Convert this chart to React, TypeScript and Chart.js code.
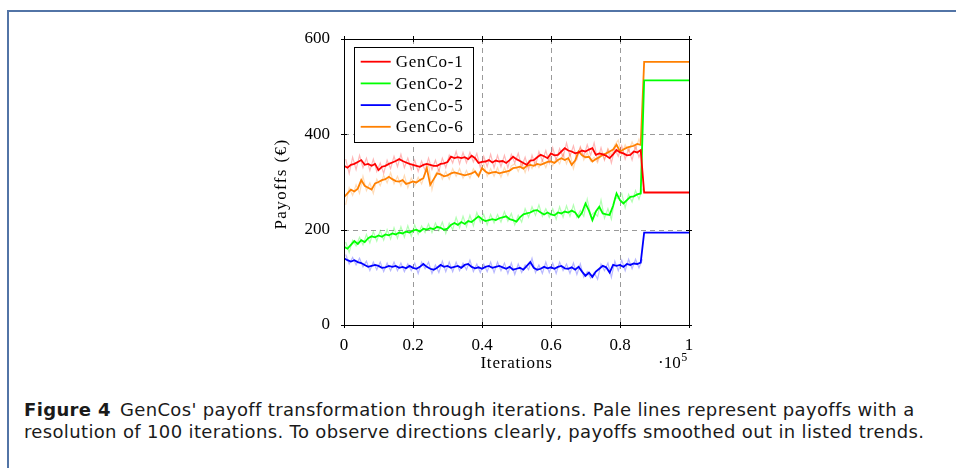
import React, { useEffect, useRef } from "react";
import { Chart, registerables } from "chart.js";

Chart.register(...registerables);

// ---------- data ----------
const seriesLabels = ["GenCo-1", "GenCo-2", "GenCo-5", "GenCo-6"];
const seriesColors = ["#ff0000", "#00ff00", "#0000ff", "#ff8000"];
const paleColors = [
  "rgba(255,0,0,0.28)",
  "rgba(0,255,0,0.3)",
  "rgba(0,0,255,0.28)",
  "rgba(255,128,0,0.28)",
];

// iterations in thousands (smoothed trend samples)
const smoothIterK = [
  0, 1, 2, 3, 4, 5, 6, 7, 8, 9, 10, 11, 12, 13, 14, 15, 16, 17, 18, 19,
  20, 21, 22, 23, 24, 25, 26, 27, 28, 29, 30, 31, 32, 33, 34, 35, 36, 37, 38, 39,
  40, 41, 42, 43, 44, 45, 46, 47, 48, 49, 50, 51, 52, 53, 54, 55, 56, 57, 58, 59,
  60, 61, 62, 63, 64, 65, 66, 67, 68, 69, 70, 71, 72, 73, 74, 75, 76, 77, 78, 79,
  80, 81, 82, 83, 84, 85, 86,
];
// iterations in thousands (pale, raw samples)
const paleIterK = [
  0.5, 1.5, 2.5, 3.5, 4.5, 5.5, 6.5, 7.5, 8.5, 9.5, 10.5, 11.5, 12.5, 13.5, 14.5, 15.5, 16.5, 17.5, 18.5, 19.5,
  20.5, 21.5, 22.5, 23.5, 24.5, 25.5, 26.5, 27.5, 28.5, 29.5, 30.5, 31.5, 32.5, 33.5, 34.5, 35.5, 36.5, 37.5, 38.5, 39.5,
  40.5, 41.5, 42.5, 43.5, 44.5, 45.5, 46.5, 47.5, 48.5, 49.5, 50.5, 51.5, 52.5, 53.5, 54.5, 55.5, 56.5, 57.5, 58.5, 59.5,
  60.5, 61.5, 62.5, 63.5, 64.5, 65.5, 66.5, 67.5, 68.5, 69.5, 70.5, 71.5, 72.5, 73.5, 74.5, 75.5, 76.5, 77.5, 78.5, 79.5,
  80.5, 81.5, 82.5, 83.5, 84.5, 85.5, 86.5,
];
// after convergence (thousands of iterations)
const finalIterK = [87, 100];

const genco1Smooth = [
  334, 330, 336, 338, 342, 346, 336, 338, 334, 338, 325, 332, 334, 338, 341, 344, 348, 344, 341, 338,
  336, 334, 332, 336, 338, 336, 334, 334, 338, 339, 342, 353, 350, 352, 350, 352, 348, 355, 350, 340,
  342, 343, 346, 341, 345, 343, 344, 340, 346, 353, 348, 344, 340, 336, 345, 346, 352, 357, 354, 350,
  360, 356, 357, 364, 371, 366, 364, 360, 362, 366, 364, 368, 371, 357, 360, 358, 355, 350, 358, 367,
  362, 360, 356, 357, 364, 362, 367,
];
const genco2Smooth = [
  164, 160, 168, 176, 170, 178, 174, 182, 186, 184, 188, 185, 190, 188, 192, 190, 194, 192, 196, 194,
  198, 200, 196, 202, 200, 203, 201, 206, 204, 200, 202, 210, 214, 210, 216, 212, 218, 216, 222, 228,
  222, 218, 220, 222, 220, 224, 226, 228, 222, 220, 217, 226, 232, 234, 236, 240, 241, 236, 232, 236,
  232, 230, 236, 234, 238, 236, 240, 236, 226, 236, 255, 240, 220, 238, 248, 234, 232, 231, 250, 276,
  262, 255, 262, 269, 270, 274, 276,
];
const genco5Smooth = [
  140, 136, 133, 136, 132, 130, 126, 122, 124, 126, 124, 120, 121, 124, 122, 124, 120, 122, 119, 124,
  120, 118, 122, 128, 122, 118, 116, 120, 126, 122, 124, 120, 122, 124, 120, 126, 128, 122, 119, 121,
  118, 122, 124, 120, 122, 124, 121, 118, 122, 116, 118, 120, 116, 124, 132, 120, 116, 118, 122, 119,
  121, 118, 122, 124, 119, 118, 121, 116, 122, 112, 103, 110, 101, 112, 118, 124, 121, 110, 126, 124,
  126, 122, 128, 126, 129, 128, 131,
];
const genco6Smooth = [
  268, 276, 284, 280, 286, 304, 292, 288, 284, 297, 300, 304, 306, 311, 306, 302, 301, 304, 296, 298,
  301, 299, 304, 308, 329, 294, 306, 318, 316, 312, 314, 318, 320, 318, 316, 314, 316, 318, 322, 312,
  329, 322, 318, 320, 321, 318, 320, 322, 324, 329, 330, 332, 328, 334, 336, 334, 338, 336, 339, 342,
  343, 340, 346, 350, 346, 350, 336, 345, 364, 356, 352, 353, 343, 348, 352, 357, 360, 364, 368, 378,
  364, 368, 372, 374, 376, 380, 378,
];

const genco1Pale = [
  348, 318, 352, 326, 356, 330, 350, 324, 348, 322, 340, 318, 346, 328, 354, 332, 358, 330, 350, 326,
  346, 322, 344, 324, 350, 326, 346, 322, 350, 330, 356, 340, 364, 338, 362, 340, 362, 342, 360, 330,
  354, 332, 358, 330, 356, 332, 356, 330, 358, 340, 360, 332, 352, 326, 356, 334, 364, 344, 366, 340,
  372, 346, 370, 352, 382, 354, 376, 348, 374, 354, 378, 356, 382, 346, 372, 346, 368, 340, 370, 354,
  376, 348, 370, 346, 376, 352, 372,
];
const genco2Pale = [
  174, 152, 178, 166, 184, 168, 190, 172, 196, 176, 198, 178, 200, 180, 204, 182, 206, 184, 208, 186,
  210, 190, 208, 194, 212, 194, 214, 198, 216, 192, 214, 200, 226, 204, 228, 206, 230, 208, 236, 216,
  232, 210, 232, 214, 232, 216, 238, 218, 234, 210, 230, 216, 244, 226, 248, 230, 252, 228, 244, 226,
  244, 222, 248, 226, 250, 228, 252, 226, 240, 228, 264, 230, 236, 228, 262, 224, 244, 222, 266, 266,
  276, 246, 274, 258, 282, 264, 286,
];
const genco5Pale = [
  148, 128, 142, 126, 140, 122, 134, 114, 132, 116, 132, 112, 130, 114, 132, 114, 130, 112, 128, 114,
  130, 108, 132, 118, 132, 108, 126, 110, 134, 112, 132, 112, 132, 114, 130, 116, 136, 112, 128, 110,
  128, 112, 132, 110, 132, 114, 130, 108, 130, 106, 128, 110, 126, 116, 140, 110, 126, 108, 132, 110,
  130, 108, 132, 114, 128, 108, 130, 106, 128, 100, 112, 98, 110, 96, 128, 114, 130, 100, 134, 114,
  136, 114, 138, 118, 138, 120, 138,
];
const genco6Pale = [
  252, 288, 272, 294, 276, 312, 282, 298, 276, 306, 292, 314, 298, 320, 296, 312, 292, 314, 288, 308,
  292, 310, 296, 318, 338, 284, 316, 326, 306, 322, 306, 328, 312, 328, 308, 324, 308, 328, 314, 322,
  338, 312, 328, 312, 330, 310, 330, 314, 334, 338, 322, 342, 320, 344, 328, 344, 330, 346, 330, 352,
  334, 350, 338, 360, 338, 360, 328, 356, 372, 346, 362, 344, 352, 340, 362, 348, 370, 356, 378, 388,
  356, 378, 364, 384, 368, 390, 370,
];

const finalPayoffs = [278, 513, 194, 552];

const smoothSeries = [genco1Smooth, genco2Smooth, genco5Smooth, genco6Smooth];
const paleSeries = [genco1Pale, genco2Pale, genco5Pale, genco6Pale];

const xTickLabels = ["0", "0.2", "0.4", "0.6", "0.8", "1"];
const yTickLabels = ["0", "200", "400", "600"];

// ---------- layout ----------
const CANVAS_LEFT = 250;
const CANVAS_TOP = 25;
const CANVAS_W = 460;
const CANVAS_H = 360;
const SERIF = '"Liberation Serif", "Times New Roman", serif';

function setSpacing(ctx: any, v: string) {
  try {
    ctx.letterSpacing = v;
  } catch (e) {
    /* ignore */
  }
}

const decorPlugin = {
  id: "paperDecor",
  beforeDatasetsDraw(chart: any) {
    const { ctx, chartArea: a, scales } = chart;
    ctx.save();
    ctx.strokeStyle = "#9a9a9a";
    ctx.lineWidth = 1;
    ctx.setLineDash([5, 4]);
    for (const v of [0.2, 0.4, 0.6, 0.8]) {
      const x = Math.round(scales.x.getPixelForValue(v)) + 0.5;
      ctx.beginPath();
      ctx.moveTo(x, a.top);
      ctx.lineTo(x, a.bottom);
      ctx.stroke();
    }
    for (const v of [200, 400]) {
      const y = Math.round(scales.y.getPixelForValue(v)) + 0.5;
      ctx.beginPath();
      ctx.moveTo(a.left, y);
      ctx.lineTo(a.right, y);
      ctx.stroke();
    }
    ctx.restore();
  },
  afterDatasetsDraw(chart: any) {
    const { ctx, chartArea: a, scales } = chart;
    ctx.save();
    // axis box
    ctx.strokeStyle = "#000";
    ctx.lineWidth = 1;
    ctx.setLineDash([]);
    ctx.strokeRect(Math.round(a.left) + 0.5, Math.round(a.top) + 0.5, Math.round(a.right - a.left), Math.round(a.bottom - a.top));
    // tick marks
    ctx.beginPath();
    for (const v of [0, 0.2, 0.4, 0.6, 0.8, 1]) {
      const x = Math.round(scales.x.getPixelForValue(v)) + 0.5;
      ctx.moveTo(x, a.bottom - 3);
      ctx.lineTo(x, a.bottom + 3);
      ctx.moveTo(x, a.top - 3);
      ctx.lineTo(x, a.top + 3);
    }
    for (const v of [0, 200, 400, 600]) {
      const y = Math.round(scales.y.getPixelForValue(v)) + 0.5;
      ctx.moveTo(a.left - 3, y);
      ctx.lineTo(a.left + 3, y);
      ctx.moveTo(a.right - 3, y);
      ctx.lineTo(a.right + 3, y);
    }
    ctx.stroke();

    // legend
    const lx = a.left + 10;
    const ly = a.top + 8;
    const lw = 119;
    const lh = 95;
    ctx.fillStyle = "#fff";
    ctx.fillRect(lx, ly, lw, lh);
    ctx.strokeStyle = "#000";
    ctx.strokeRect(Math.round(lx) + 0.5, Math.round(ly) + 0.5, lw, lh);
    ctx.font = `17px ${SERIF}`;
    setSpacing(ctx, "0.8px");
    ctx.textBaseline = "middle";
    ctx.textAlign = "left";
    seriesLabels.forEach((lab, i) => {
      const y = ly + 14.7 + i * 21.7;
      ctx.strokeStyle = seriesColors[i];
      ctx.lineWidth = 1.8;
      ctx.beginPath();
      ctx.moveTo(lx + 6.7, y);
      ctx.lineTo(lx + 36.7, y);
      ctx.stroke();
      ctx.fillStyle = "#000";
      ctx.fillText(lab, lx + 41.7, y + 1);
    });

    // axis titles
    ctx.fillStyle = "#000";
    ctx.font = `17px ${SERIF}`;
    ctx.textAlign = "center";
    ctx.textBaseline = "middle";
    ctx.fillText("Iterations", (a.left + a.right) / 2, a.bottom + 39);
    setSpacing(ctx, "1.4px");
    ctx.save();
    ctx.translate(a.left - 62, (a.top + a.bottom) / 2 + 2);
    ctx.rotate(-Math.PI / 2);
    ctx.fillText("Payoffs (€)", 0, 0);
    ctx.restore();
    setSpacing(ctx, "0px");

    // ·10^5 multiplier
    ctx.textAlign = "left";
    ctx.textBaseline = "alphabetic";
    ctx.font = `17px ${SERIF}`;
    const baseX = a.right - 31;
    const baseY = a.bottom + 43;
    ctx.fillText("·10", baseX, baseY);
    const w = ctx.measureText("·10").width;
    ctx.font = `12px ${SERIF}`;
    ctx.fillText("5", baseX + w + 0.5, baseY - 7);
    ctx.restore();
  },
};

export default function App() {
  const ref = useRef<HTMLCanvasElement | null>(null);

  useEffect(() => {
    if (!ref.current) return;
    const datasets: any[] = [];
    paleSeries.forEach((vals, i) => {
      datasets.push({
        label: seriesLabels[i] + " (raw)",
        data: paleIterK.map((k, j) => ({ x: k / 100, y: vals[j] })),
        borderColor: paleColors[i],
        borderWidth: 1.2,
        pointRadius: 0,
        tension: 0,
        fill: false,
        order: 2,
      });
    });
    smoothSeries.forEach((vals, i) => {
      const pts = smoothIterK.map((k, j) => ({ x: k / 100, y: vals[j] }));
      finalIterK.forEach((k) => pts.push({ x: k / 100, y: finalPayoffs[i] }));
      datasets.push({
        label: seriesLabels[i],
        data: pts,
        borderColor: seriesColors[i],
        borderWidth: 1.8,
        pointRadius: 0,
        tension: 0,
        fill: false,
        order: 1,
      });
    });

    const tickFont = { family: SERIF, size: 17 };
    const chart = new Chart(ref.current, {
      type: "line",
      data: { datasets },
      options: {
        animation: false,
        responsive: false,
        maintainAspectRatio: false,
        devicePixelRatio: 1,
        layout: { padding: { left: 0, right: 21, top: 14, bottom: 0 } },
        plugins: { legend: { display: false }, tooltip: { enabled: false } },
        scales: {
          x: {
            type: "linear",
            min: 0,
            max: 1,
            afterFit: (s: any) => {
              s.height = 60;
              s.paddingLeft = 0;
              s.paddingRight = 0;
            },
            grid: { display: false, drawTicks: false },
            border: { display: false },
            ticks: {
              stepSize: 0.2,
              autoSkip: false,
              maxRotation: 0,
              padding: 10,
              color: "#000",
              font: tickFont,
              callback: (_v: any, i: number) => xTickLabels[i],
            },
          },
          y: {
            type: "linear",
            min: 0,
            max: 600,
            afterFit: (s: any) => {
              s.width = 94;
              s.paddingTop = 0;
              s.paddingBottom = 0;
            },
            grid: { display: false, drawTicks: false },
            border: { display: false },
            ticks: {
              stepSize: 200,
              autoSkip: false,
              padding: 14,
              color: "#000",
              font: tickFont,
              callback: (_v: any, i: number) => yTickLabels[i],
            },
          },
        },
      } as any,
      plugins: [decorPlugin],
    });
    return () => chart.destroy();
  }, []);

  return (
    <div
      style={{
        position: "absolute",
        left: 0,
        top: 0,
        width: 956,
        height: 468,
        overflow: "hidden",
        background: "#fff",
      }}
    >
      <div
        style={{
          position: "absolute",
          left: 7,
          top: 10,
          width: 1000,
          height: 500,
          borderTop: "2px solid #5274a6",
          borderLeft: "2px solid #5274a6",
        }}
      />
      <canvas
        ref={ref}
        width={CANVAS_W}
        height={CANVAS_H}
        style={{
          position: "absolute",
          left: CANVAS_LEFT,
          top: CANVAS_TOP,
          width: CANVAS_W,
          height: CANVAS_H,
        }}
      />
      <div
        style={{
          position: "absolute",
          left: 24,
          top: 399,
          fontFamily: '"DejaVu Sans", Verdana, sans-serif',
          fontSize: 18,
          letterSpacing: "0.35px",
          lineHeight: "22px",
          color: "#1a1a1a",
          whiteSpace: "nowrap",
        }}
      >
        <b>Figure 4</b>
        <span style={{ marginLeft: 3 }}> GenCos' payoff transformation through iterations. Pale lines represent payoffs with a</span>
        <br />
        resolution of 100 iterations. To observe directions clearly, payoffs smoothed out in listed trends.
      </div>
    </div>
  );
}
